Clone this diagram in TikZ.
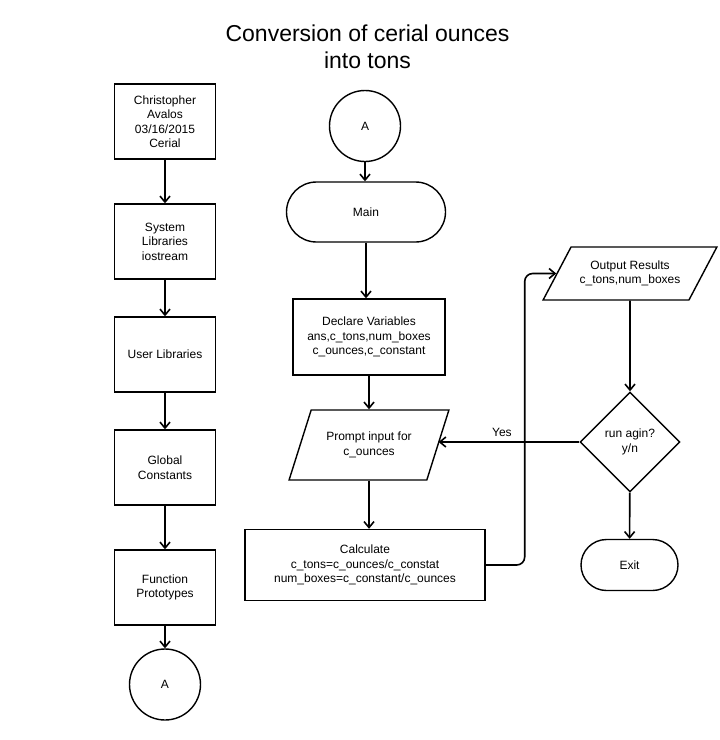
\documentclass[tikz,border=0pt]{standalone}
\usepackage{fontspec}
\setmainfont{Liberation Sans}
\usetikzlibrary{shapes.geometric,shapes.misc,arrows.meta}

\tikzset{
  txt/.style={align=center, font=\fontsize{12}{14.5}\selectfont, inner sep=2pt},
  stepbox/.style={txt, draw, line width=1.4pt, minimum width=101pt, minimum height=75pt},
  conn/.style={txt, draw, circle, line width=1.4pt, minimum size=71pt},
  term/.style={txt, draw, rounded rectangle, line width=1.4pt},
  iobox/.style={txt, draw, trapezium, trapezium stretches=true, line width=1.4pt},
  choice/.style={txt, draw, diamond, line width=1.4pt, minimum width=100pt, minimum height=100pt},
  arr/.style={line width=1.6pt, -{Straight Barb[length=6pt,width=10pt,line width=1.6pt]}}
}

\begin{document}
\begin{tikzpicture}[x=1pt, y=-1pt]
        \useasboundingbox (0, 0) rectangle (720, 740);
        \node[align=center, font=\fontsize{23}{27}\selectfont] (title) at (367.5, 46.5){Conversion of cerial ounces\\into tons};
        %%left column
          \node[stepbox] (info) at (165, 121.5){Christopher\\Avalos\\03/16/2015\\Cerial};
          \node[stepbox] (syslib) at (165, 241.5){System\\Libraries\\iostream};
          \node[stepbox] (userlib) at (165, 354.5){User Libraries};
          \node[stepbox] (globals) at (165, 467.5){Global\\Constants};
          \node[stepbox] (protos) at (165, 587.5){Function\\Prototypes};
          \node[conn] (offA) at (165, 684.5){A};

          \draw[arr] (info) to (syslib);
          \draw[arr] (syslib) to (userlib);
          \draw[arr] (userlib) to (globals);
          \draw[arr] (globals) to (protos);
          \draw[arr] (protos) to (offA);

        %%main column
          \node[conn] (onA) at (365, 126){A};
          \node[term, minimum width=163pt, minimum height=60pt] (main) at (366, 212){Main};
          \node[stepbox, minimum width=152pt, minimum height=76pt] (declare) at (369, 337){Declare Variables\\ans,c\_tons,num\_boxes\\c\_ounces,c\_constant};
          \node[iobox, trapezium left angle=60, trapezium right angle=120, minimum width=160pt, minimum height=70pt] (prompt) at (369, 445){Prompt input for\\c\_ounces};
          \node[stepbox, minimum width=240pt, minimum height=71pt] (calc) at (365, 565){Calculate\\c\_tons=c\_ounces/c\_constat\\num\_boxes=c\_constant/c\_ounces};

          \draw[arr] (onA) to (onA |- main.north);
          \draw[arr] (main.south) to (main.south |- declare.north);
          \draw[arr] (declare.south -| prompt.north) to (prompt.north);
          \draw[arr] (prompt.south) to (prompt.south |- calc.north);

        %%right column
          \node[iobox, trapezium left angle=50, trapezium right angle=130, minimum width=174pt, minimum height=53pt] (output) at (630, 273.5){Output Results\\c\_tons,num\_boxes};
          \node[choice] (decide) at (630, 442){run agin?\\y/n};
          \node[term, minimum width=101pt, minimum height=51pt] (exit) at (629.5, 565){Exit};

          \draw[arr, rounded corners=8pt] (calc.east) -- ++(39pt, 0pt) |- (output.west);
          \draw[arr] (output) to (decide);
          \draw[arr] (decide) to (exit);
          \draw[arr] (decide.west) to node[txt, above=3pt, pos=.55] (yes){Yes} (decide.west -| prompt.east);
      \end{tikzpicture}
\end{document}
